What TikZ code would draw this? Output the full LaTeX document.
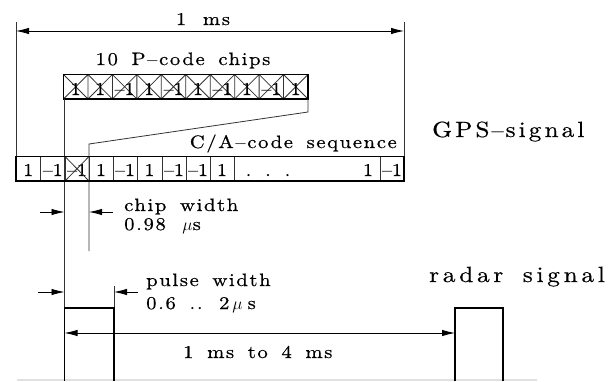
\documentclass[tikz,border=0pt]{standalone}
\usepackage{fontspec}
\newfontfamily\lblfont{lmroman10-regular.otf}[LetterSpace=9, FakeStretch=1.15, FakeBold=0.6, WordSpace=1.6]
\newfontfamily\gpsfont{lmroman10-regular.otf}[LetterSpace=14, FakeStretch=1.15, FakeBold=0.5]
\newfontfamily\radfont{lmroman10-regular.otf}[LetterSpace=17, FakeStretch=1.15, FakeBold=0.5, WordSpace=1.6]
\newfontfamily\cellfont{lmroman10-regular.otf}[FakeStretch=1.1, FakeBold=0.7]
\usetikzlibrary{arrows.meta}
\tikzset{
  thin line/.style={line width=0.8pt, draw=black!80},
  thick box/.style={line width=1.8pt, draw=black},
  pulse line/.style={line width=1.5pt, draw=black},
  dimarrow/.style={line width=0.8pt, -{Latex[length=13pt,width=6.5pt]}},
  dimboth/.style={line width=0.8pt, {Latex[length=13pt,width=6.5pt]}-{Latex[length=13pt,width=6.5pt]}},
  lbl/.style={inner sep=0pt, font=\fontsize{18}{21}\lblfont},
  big/.style={inner sep=0pt, font=\fontsize{22}{26}\gpsfont},
  bigr/.style={inner sep=0pt, font=\fontsize{22}{26}\radfont},
  cell/.style={inner sep=0pt, anchor=base, font=\fontsize{18}{21}\cellfont},
  floor/.style={line width=1.5pt, draw=black!12},
}
\begin{document}
\begin{tikzpicture}[x=1pt,y=-1pt]
\useasboundingbox (0,0) rectangle (616,381);

% ---- 1 ms dimension
\coordinate (msL0) at (16,22);
\coordinate (msR0) at (404,22);
\coordinate (msL) at (16,31);
\coordinate (msR) at (404,31);
\draw[thin line] (msL0) -- (16,157);
\draw[thin line] (msR0) -- (404,157);
\draw[dimboth] (msL) -- (msR);
\node[lbl, anchor=base] (ms) at (203,25) {1\hspace{3pt} ms};

% ---- P-code box
\node[lbl, anchor=base] (pcl) at (183,65) {10 P$-$code chips};
\coordinate (pTL) at (63.5,74.5);
\coordinate (pBR) at (308,99);
\foreach \v [count=\i from 0] in {1,1,-1,1,-1,1,-1,1,-1,1}{
  \pgfmathsetmacro{\xa}{63.5+24.45*\i}
  \pgfmathsetmacro{\xb}{63.5+24.45*(\i+1)}
  \draw[thin line] (\xa,74.5) -- (\xb,99) (\xa,99) -- (\xb,74.5) (\xb,74.5) -- (\xb,99);
  \node[cell] at ({(\xa+\xb)/2},95) {\ifnum\v<0 –\fi1};
}
\draw[thick box] (pTL) rectangle (pBR);

% ---- zoom lines
\coordinate (zR1) at (308,112);
\coordinate (zR2) at (89,144);
\coordinate (zR3) at (89,251);
\coordinate (zL1) at (64.5,99);
\coordinate (zL2) at (64.5,308);
\draw[thin line] (pBR) -- (zR1) -- (zR2) -- (zR3);
\draw[thin line] (zL1) -- (zL2);

% ---- C/A code sequence
\node[lbl, anchor=base east] (cal) at (397,148) {C/A$-$code sequence};
\foreach \a/\b/\t in {16/40.5/1, 40.5/65/-1, 65/89/-1, 89/113/1, 113/137/-1, 137/162/1, 162/186/-1, 186/210/-1, 210/234/1, 356/380/1, 380/404/-1}{
  \draw[thin line] (\b,156.5) -- (\b,181);
  \node[cell] at ({(\a+\b)/2},176) {\ifnum\t<0 –\fi1};
}
\draw[thin line] (65,156.5) -- (89,181) (65,181) -- (89,156.5);
\node[cell] at (268,176) {.\hspace{14pt}.\hspace{14pt}.};
\draw[thick box] (16,156.5) rectangle (404,181);

\node[big, anchor=base west] (gps) at (432,137) {GPS$-$signal};

% ---- chip width
\coordinate (cwA) at (40,212);
\coordinate (cwB) at (64.5,212);
\coordinate (cwC) at (113,212);
\coordinate (cwD) at (89,212);
\draw[dimarrow] (cwA) -- (cwB);
\draw[dimarrow] (cwC) -- (cwD);
\node[lbl, anchor=base west] (cw1) at (124,211) {chip width};
\node[lbl, anchor=base west] (cw2) at (124,230) {0.98 \hspace{3pt}$\mu$s};

% ---- pulse width
\coordinate (pwA) at (38,292);
\coordinate (pwB) at (64.5,292);
\coordinate (pwC) at (138,292);
\coordinate (pwD) at (114,292);
\draw[thin line] (114,286) -- (114,308);
\draw[dimarrow] (pwA) -- (pwB);
\draw[dimarrow] (pwC) -- (pwD);
\node[lbl, anchor=base west] (pw1) at (146,286) {pulse width};
\node[lbl, anchor=base west] (pw2) at (146,309) {0.6 .. 2\hspace{3pt}$\mu$\hspace{5pt}s};

% ---- radar pulses
\draw[floor] (17,380) -- (537,380);
\draw[pulse line] (64.5,381) -- (64.5,308) -- (114,308) -- (114,381);
\draw[pulse line] (455,381) -- (455,308) -- (503,308) -- (503,381);
\coordinate (ppA) at (64.5,333);
\coordinate (ppB) at (455,333);
\draw[dimboth] (ppA) -- (ppB);
\node[lbl, anchor=base west] (per) at (183,358) {1 ms to 4 ms};
\node[bigr, anchor=base west] (rad) at (429,282) {radar signal};
\end{tikzpicture}
\end{document}
